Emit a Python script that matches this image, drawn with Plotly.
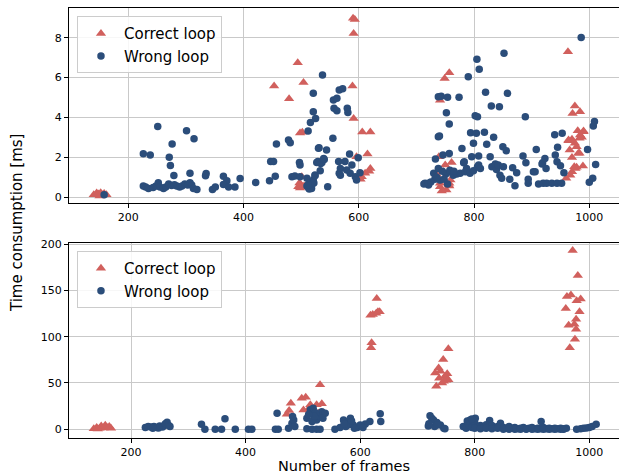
import plotly.graph_objects as go

# ---------------- data (frame number, time in ms) ----------------
top_correct_x = [140, 145, 148, 152, 155, 158, 162, 150,
                 453, 494, 504, 479, 498, 502, 495, 498, 500, 503, 497, 501, 505,
                 590, 593, 591, 589, 591, 606, 620, 615, 596, 620, 611, 605, 603, 618,
                 757, 749, 741, 750, 761, 747, 741, 757, 741, 757, 735, 744, 752, 739, 759, 756,
                 963, 975, 971, 984, 980, 990, 984, 964, 970, 975, 978, 983, 987, 966, 983, 970,
                 974, 989, 970, 967, 960, 978, 976, 981, 990, 964]
top_correct_y = [0.12, 0.2, 0.15, 0.22, 0.1, 0.18, 0.12, 0.05,
                 5.58, 6.75, 5.75, 4.94, 3.22, 3.25, 0.52, 0.45, 0.6, 0.5, 0.7, 1.02, 0.55,
                 8.98, 8.92, 8.22, 5.58, 3.95, 3.27, 3.27, 2.16, 2.03, 1.44, 1.19, 1.02, 0.9, 1.3,
                 6.25, 5.96, 4.87, 1.61, 1.73, 1.27, 0.69, 0.69, 0.52, 0.55, 1.15, 0.3, 0.35, 2.03, 0.86, 0.6,
                 7.3, 4.57, 4.2, 4.29, 3.33, 3.32, 3.12, 2.83, 2.9, 2.7, 2.53, 2.95, 3.0, 2.36, 2.2, 1.99,
                 1.52, 1.56, 1.27, 1.1, 0.95, 1.5, 1.44, 2.2, 3.28, 2.87]

top_wrong_x = [158,
               226, 238, 251, 271, 273, 276, 279, 301, 314, 307, 335, 334,
               226, 230, 235, 243, 248, 252, 255, 261, 265, 270, 275, 280, 284, 289, 293, 298, 303, 307, 310, 313, 319,
               346, 351, 365, 371, 365, 374, 385, 394, 421, 445, 455, 447, 452, 457, 478, 481, 484, 489, 497, 498, 498,
               510, 512, 514, 514, 516, 520, 521, 521, 521, 524, 525, 524, 529, 530, 534, 536, 537, 540, 544, 546,
               555, 556, 562, 557, 562, 566, 572, 565, 566, 568, 568, 576, 579, 580, 581, 584, 585, 588, 594, 596,
               599, 602, 515, 510, 518, 527, 533, 539, 531, 517, 519, 522, 513, 512,
               715, 721, 713, 721, 730, 732, 733, 738, 738, 738, 741, 740, 743, 746, 751, 752, 754, 754, 757, 757,
               758, 764, 770, 774, 776, 779, 782, 783, 785, 787, 790, 793, 794, 796, 799, 799, 802, 804, 805, 806,
               806, 808, 808, 809, 811, 818, 820, 822, 828, 830, 831, 834, 837, 839, 842, 844, 845, 848, 850, 851,
               852, 856, 858, 862, 867, 871, 874, 885, 889, 890, 894, 894, 903, 906, 908, 912, 918, 919, 920, 923,
               925, 926, 935, 940, 941, 944, 944, 945, 950, 952, 953, 956, 986, 997, 1000, 1006, 1007, 1009, 1011,
               758, 745, 765, 748, 735, 725]
top_wrong_y = [0.12,
               2.17, 2.11, 3.55, 2.0, 1.59, 2.66, 1.08, 3.33, 2.93, 1.2, 1.18, 1.07,
               0.55, 0.5, 0.43, 0.48, 0.55, 0.72, 0.51, 0.43, 0.5, 0.65, 0.58, 0.62, 0.55, 0.5, 0.55, 0.65, 0.6, 0.72, 0.6, 0.43, 0.38,
               0.38, 0.51, 1.05, 0.82, 0.63, 0.51, 0.51, 0.93, 0.73, 0.82, 1.05, 1.78, 1.78, 2.66, 2.87, 2.73, 1.02, 1.06, 1.74, 1.61, 1.02,
               0.94, 3.32, 0.6, 0.4, 3.74, 0.77, 5.21, 4.29, 0.85, 1.07, 3.95, 1.11, 1.78, 2.45, 1.69, 1.73, 6.13, 1.89, 2.36, 0.52,
               2.95, 4.88, 4.96, 4.46, 4.34, 5.38, 5.44, 1.78, 1.19, 1.44, 1.1, 1.78, 1.36, 4.46, 4.25, 2.16, 1.19, 1.61, 1.02, 0.85,
               1.98, 1.22, 0.69, 0.55, 0.43, 1.73, 1.32, 1.94, 2.48, 0.5, 0.65, 0.7, 0.45, 0.62,
               0.69, 0.6, 0.65, 0.69, 1.19, 0.89, 1.91, 1.44, 5.04, 3.03, 0.85, 3.07, 5.07, 2.11, 1.16, 4.24, 5.01, 0.65, 3.67, 2.19,
               1.27, 1.1, 1.16, 5.01, 1.19, 2.44, 1.72, 1.77, 1.27, 1.44, 6.05, 1.19, 3.23, 2.03, 1.32, 2.7, 4.09, 3.2, 6.92, 4.04,
               1.52, 2.06, 1.61, 6.42, 1.44, 3.25, 5.26, 2.65, 2.03, 4.57, 1.52, 3.0, 1.66, 1.39, 1.61, 4.54, 1.1, 0.94, 2.53, 1.52,
               7.22, 2.33, 5.21, 0.89, 1.47, 0.57, 1.22, 2.06, 4.04, 1.72, 0.89, 0.69, 1.27, 1.27, 2.39, 0.65, 1.66, 1.72, 0.69, 1.94,
               1.44, 0.69, 0.69, 3.13, 2.11, 1.77, 0.69, 2.5, 1.57, 0.69, 3.2, 1.22, 8.02, 2.39, 0.74, 0.94, 3.57, 3.79, 1.64,
               1.35, 1.3, 1.3, 0.9, 1.0, 0.75]

bot_correct_x = [135, 140, 145, 148, 152, 155, 158, 162, 165, 142,
                 472, 476, 479, 498, 505, 501, 513, 518, 524, 527, 530, 533, 510,
                 618, 619, 620, 628, 629, 634, 622, 631,
                 731, 733, 737, 740, 743, 745, 748, 754, 754, 750, 752, 746, 738,
                 959, 961, 964, 966, 968, 971, 974, 975, 977, 977, 978, 980, 983, 985]
bot_correct_y = [0.5, 2, 1, 3.5, 1.5, 4.5, 2, 3, 1, 0.2,
                 16.2, 20.2, 28.2, 33.6, 34.7, 20.9, 26.4, 17.3, 26.4, 17.3, 48.1, 27.5, 22,
                 123.2, 88.1, 93.5, 125.4, 141.3, 126.8, 124, 127,
                 60.9, 46.4, 66.3, 62.7, 50, 75.4, 57.3, 53.6, 87, 53, 60, 52, 55,
                 130.4, 143.5, 112.3, 88.0, 145, 193, 113.4, 97.1, 118.8, 108, 138.8, 166, 126.8, 140.6]

bot_wrong_x = [225, 230, 235, 240, 245, 250, 255, 258, 260, 263, 266, 268, 248, 238,
               323, 329, 347, 358, 364, 382, 405, 411,
               452, 455, 457, 475, 481, 484, 482, 486, 507, 513, 518, 524, 533, 539, 516, 507, 516, 524, 530,
               528, 522, 535, 520, 510,
               556, 571, 577, 583, 588, 580, 575, 565, 595, 600, 609, 617, 635, 636, 590, 605, 585, 572,
               719, 722, 725, 728, 734, 740, 746, 748, 730, 735, 720,
               792, 801, 826, 845, 916,
               780, 785, 790, 795, 800, 805, 810, 815, 820, 825, 830, 835, 840, 850, 855, 860, 865, 870, 875, 880,
               885, 890, 895, 900, 905, 910, 915, 920, 925, 930, 935, 940, 945, 950, 955, 960,
               870, 880, 890, 900, 910, 920, 930, 940, 950, 955, 800, 810, 820, 830, 840, 850, 860, 787, 795,
               978, 985, 990, 995, 1000, 1005, 1012]
bot_wrong_y = [2, 3, 2.5, 3, 2, 3.5, 2.5, 4, 6, 7.5, 4, 3, 1.5, 1,
               5.4, 0, 0, 0, 11.5, 0, 0, 0,
               0, 17.3, 0, 1, 6.5, 10, 13.7, 3, 11.9, 21, 22.8, 10, 19, 17.3, 8.3, 0.5, 0, 0, 0,
               14, 18, 12, 14, 16,
               0, 10, 7.3, 12, 4.7, 5, 3, 2, 2, 4.7, 5.8, 8.3, 16.7, 8.3, 1, 2, 9, 6,
               3.6, 14.5, 12, 10, 7.3, 4.7, 1.1, 0.5, 3, 5, 6,
               10, 12, 9.4, 6.5, 8.3,
               3, 1, 5, 2, 7, 3, 4, 2, 5, 3, 4, 2, 3, 2, 1, 3, 1, 2, 0.5, 1,
               2, 0.5, 1, 2, 0.5, 1, 0.5, 2, 0.5, 1, 0.5, 1, 0.5, 1, 0.5, 1,
               0, 0, 0, 0, 0, 0, 0, 0, 0, 0, 1, 0.5, 1, 0.5, 1, 0, 0, 9, 11,
               0, 0.5, 1, 1.5, 2, 3, 5.4]

series_names = ["Correct loop", "Wrong loop"]
top_xticks = [200, 400, 600, 800, 1000]
top_yticks = [0, 2, 4, 6, 8]
bot_yticks = [0, 50, 100, 150, 200]

RED = "#d1605d"
BLUE = "#2b4d7a"
FONT = "DejaVu Sans"

fig = go.Figure()
fig.add_trace(go.Scatter(x=top_correct_x, y=top_correct_y, mode="markers", name=series_names[0],
                         marker=dict(symbol="triangle-up", size=9, color=RED),
                         xaxis="x", yaxis="y", legend="legend"))
fig.add_trace(go.Scatter(x=top_wrong_x, y=top_wrong_y, mode="markers", name=series_names[1],
                         marker=dict(symbol="circle", size=7.5, color=BLUE),
                         xaxis="x", yaxis="y", legend="legend"))
fig.add_trace(go.Scatter(x=bot_correct_x, y=bot_correct_y, mode="markers", name=series_names[0],
                         marker=dict(symbol="triangle-up", size=9, color=RED),
                         xaxis="x2", yaxis="y2", legend="legend2"))
fig.add_trace(go.Scatter(x=bot_wrong_x, y=bot_wrong_y, mode="markers", name=series_names[1],
                         marker=dict(symbol="circle", size=7.5, color=BLUE),
                         xaxis="x2", yaxis="y2", legend="legend2"))

axis_common = dict(showgrid=True, gridcolor="#c9c9c9", gridwidth=1.3, zeroline=False,
                   showline=True, linecolor="black", linewidth=1, automargin=False,
                   ticks="outside", ticklen=4, tickwidth=1, tickcolor="black",
                   tickfont=dict(family=FONT, size=11, color="black"))

legend_common = dict(bgcolor="rgba(255,255,255,0.85)", bordercolor="#cccccc", borderwidth=1,
                     font=dict(family=FONT, size=15, color="black"),
                     xanchor="left", yanchor="top", tracegroupgap=0, itemwidth=36)

fig.update_layout(
    width=619, height=475,
    margin=dict(l=69, r=0, t=8, b=37, autoexpand=False),
    plot_bgcolor="white", paper_bgcolor="white",
    xaxis=dict(domain=[0, 1], range=[97, 1051.6], tickvals=top_xticks, anchor="y", mirror=True, **axis_common),
    yaxis=dict(domain=[0.5465, 1], range=[-0.30, 9.50], tickvals=top_yticks, anchor="x", **axis_common),
    xaxis2=dict(domain=[0, 1], range=[91.7, 1051.9], tickvals=top_xticks, anchor="y2", mirror=True, **axis_common),
    yaxis2=dict(domain=[0, 0.454], range=[-9.4, 201.4], tickvals=bot_yticks, anchor="x2", **axis_common),
    legend=dict(x=0.0145, y=0.981, **legend_common),
    legend2=dict(x=0.0145, y=0.435, **legend_common),
    annotations=[
        dict(text="Time consumption [ms]", x=-0.0945, y=0.5, xref="paper", yref="paper",
             textangle=-90, showarrow=False, xanchor="center", yanchor="middle",
             font=dict(family=FONT, size=15, color="black")),
        dict(text="Number of frames", x=0.5, y=-0.0655, xref="paper", yref="paper",
             showarrow=False, xanchor="center", yanchor="middle",
             font=dict(family=FONT, size=14.5, color="black")),
    ],
)

fig.write_html("out.html", config={"displayModeBar": False},
               post_script="document.body.style.margin='0';document.body.style.overflow='hidden';")
